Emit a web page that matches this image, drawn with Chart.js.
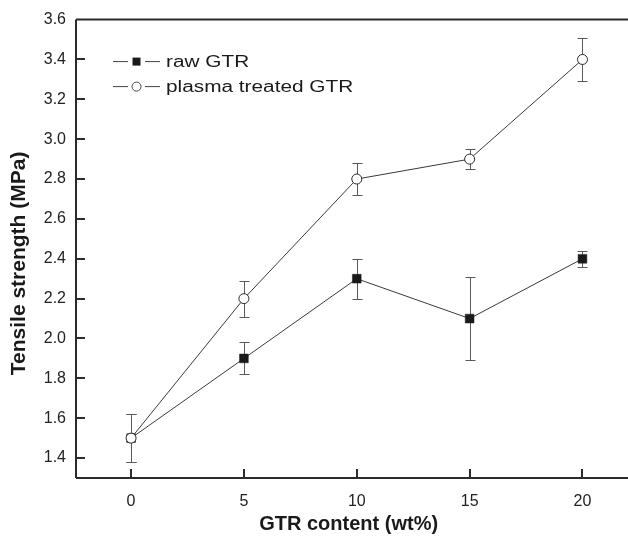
<!DOCTYPE html>
<html>
<head>
<meta charset="utf-8">
<script src="https://cdn.jsdelivr.net/npm/chart.js@4.4.1/dist/chart.umd.min.js"></script>
<style>
  html, body { margin: 0; padding: 0; background: #fff; overflow: hidden; }
  #wrap { width: 628px; height: 538px; }
  canvas { display: block; }
</style>
</head>
<body>
<div id="wrap"><canvas id="chart" width="628" height="538"></canvas></div>
<script>
const gtrContent = [0, 5, 10, 15, 20];
const rawGTR = [1.5, 1.9, 2.3, 2.1, 2.4];
const rawErr = [0.12, 0.08, 0.10, 0.21, 0.04];
const plasmaGTR = [1.5, 2.2, 2.8, 2.9, 3.4];
const plasmaErr = [0.12, 0.09, 0.08, 0.05, 0.11];
const xTicks = [0, 5, 10, 15, 20];
const yTicks = [1.4, 1.6, 1.8, 2.0, 2.2, 2.4, 2.6, 2.8, 3.0, 3.2, 3.4, 3.6];

const FONT = "'Liberation Sans', Arial, sans-serif";
const AXIS = "#2b2b2b";

// error bars, drawn under the markers
const errorBars = {
  id: "errorBars",
  beforeDatasetsDraw(chart) {
    const { ctx, scales: { x, y } } = chart;
    ctx.save();
    ctx.strokeStyle = "#5a5a5a";
    ctx.lineWidth = 1;
    const sets = [[rawGTR, rawErr], [plasmaGTR, plasmaErr]];
    sets.forEach(([vals, errs]) => {
      vals.forEach((v, i) => {
        const px = Math.round(x.getPixelForValue(gtrContent[i])) + 0.5;
        const top = Math.round(y.getPixelForValue(v + errs[i])) + 0.5;
        const bot = Math.round(y.getPixelForValue(v - errs[i])) + 0.5;
        ctx.beginPath();
        ctx.moveTo(px, top); ctx.lineTo(px, bot);
        ctx.moveTo(px - 5, top); ctx.lineTo(px + 5, top);
        ctx.moveTo(px - 5, bot); ctx.lineTo(px + 5, bot);
        ctx.stroke();
      });
    });
    ctx.restore();
  }
};

// frame: inward ticks + top line, plus the line-marker-line legend
const frame = {
  id: "frame",
  afterDraw(chart) {
    const { ctx, chartArea: a, scales: { x, y } } = chart;
    const right = chart.width; // the frame runs off the right edge
    ctx.save();
    ctx.strokeStyle = AXIS;
    ctx.lineWidth = 2;
    ctx.beginPath();
    ctx.moveTo(a.left, a.top); ctx.lineTo(right, a.top);
    ctx.moveTo(a.left, a.top); ctx.lineTo(a.left, a.bottom);
    ctx.moveTo(a.left, a.bottom); ctx.lineTo(right, a.bottom);
    yTicks.forEach(v => {
      const py = Math.round(y.getPixelForValue(v));
      if (py < a.top + 3) return;
      ctx.moveTo(a.left, py); ctx.lineTo(a.left + 9, py);
    });
    xTicks.forEach(v => {
      const px = Math.round(x.getPixelForValue(v));
      ctx.moveTo(px, a.bottom); ctx.lineTo(px, a.bottom - 9);
    });
    ctx.stroke();

    // legend (the source font is set wide, hence the x stretch)
    const items = [
      { label: "raw GTR", style: "rect" },
      { label: "plasma treated GTR", style: "circle" }
    ];
    items.forEach((it, i) => {
      const ly = a.top + 42 + i * 25;
      const lx = a.left + 37;
      ctx.strokeStyle = "#444";
      ctx.lineWidth = 1;
      ctx.beginPath();
      ctx.moveTo(lx, ly); ctx.lineTo(lx + 15, ly);
      ctx.moveTo(lx + 32, ly); ctx.lineTo(lx + 47, ly);
      ctx.stroke();
      ctx.beginPath();
      if (it.style === "rect") {
        ctx.fillStyle = "#1a1a1a";
        ctx.fillRect(lx + 19.5, ly - 4, 8, 8);
      } else {
        ctx.fillStyle = "#fff";
        ctx.arc(lx + 23.5, ly, 4.5, 0, Math.PI * 2);
        ctx.fill();
        ctx.stroke();
      }
      ctx.save();
      ctx.translate(lx + 53, ly + 1);
      ctx.scale(1.3, 1);
      ctx.fillStyle = "#1a1a1a";
      ctx.font = "16px " + FONT;
      ctx.textBaseline = "middle";
      ctx.fillText(it.label, 0, 0);
      ctx.restore();
    });
    ctx.restore();
  }
};

new Chart(document.getElementById("chart").getContext("2d"), {
  type: "line",
  data: {
    datasets: [
      {
        label: "raw GTR",
        data: gtrContent.map((g, i) => ({ x: g, y: rawGTR[i] })),
        borderColor: "#3a3a3a",
        borderWidth: 1,
        pointStyle: "rect",
        pointRadius: 6.2,
        pointBackgroundColor: "#1a1a1a",
        pointBorderColor: "#1a1a1a",
        pointBorderWidth: 0.5,
        tension: 0,
        order: 1
      },
      {
        label: "plasma treated GTR",
        data: gtrContent.map((g, i) => ({ x: g, y: plasmaGTR[i] })),
        borderColor: "#3a3a3a",
        borderWidth: 1,
        pointStyle: "circle",
        pointRadius: 5,
        pointBackgroundColor: "#fff",
        pointBorderColor: "#2a2a2a",
        pointBorderWidth: 1,
        tension: 0,
        order: 0
      }
    ]
  },
  options: {
    responsive: false,
    animation: false,
    devicePixelRatio: 1,
    layout: { padding: { top: 19, right: 0, bottom: 0, left: 0 } },
    plugins: { legend: { display: false }, tooltip: { enabled: false } },
    scales: {
      x: {
        type: "linear",
        min: -2.44,
        max: 21.72,
        grid: { display: false, drawTicks: false },
        border: { display: false },
        afterBuildTicks: s => { s.ticks = xTicks.map(v => ({ value: v })); },
        afterFit: s => { s.height = 60; },
        ticks: {
          color: "#222",
          padding: 14,
          font: { family: FONT, size: 16 }
        },
        title: {
          display: true,
          text: "GTR content (wt%)",
          color: "#1a1a1a",
          font: { family: FONT, size: 20, weight: "bold" },
          padding: { top: 0, bottom: 2 }
        }
      },
      y: {
        type: "linear",
        min: 1.3,
        max: 3.6,
        grid: { display: false, drawTicks: false },
        border: { display: false },
        afterBuildTicks: s => { s.ticks = yTicks.map(v => ({ value: v })); },
        afterFit: s => { s.width = 76; },
        ticks: {
          color: "#222",
          padding: 10,
          font: { family: FONT, size: 16 },
          callback: v => Number(v).toFixed(1)
        },
        title: {
          display: true,
          text: "Tensile strength (MPa)\u00a0\u00a0\u00a0\u00a0\u00a0",
          color: "#1a1a1a",
          font: { family: FONT, size: 21, weight: "bold" },
          padding: { top: 7, bottom: 0 }
        }
      }
    }
  },
  plugins: [errorBars, frame]
});
</script>
</body>
</html>
